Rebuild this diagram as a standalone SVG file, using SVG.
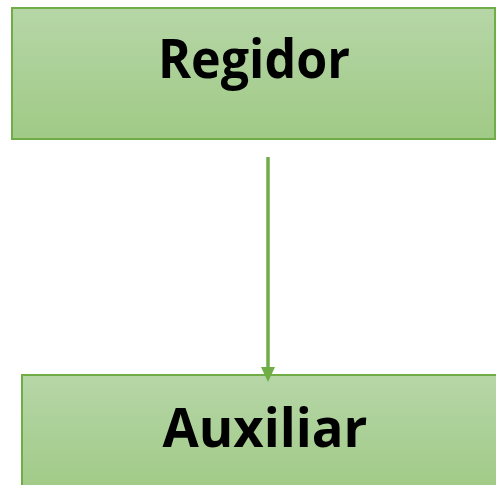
<svg xmlns="http://www.w3.org/2000/svg" width="496" height="485" viewBox="0 0 496 485">
<defs>
<linearGradient id="g" x1="0" y1="0" x2="0" y2="1">
<stop offset="0" stop-color="#b6d6a7"/>
<stop offset="1" stop-color="#a0ca86"/>
</linearGradient>
<style>
.box{fill:url(#g);stroke:#70ad47;stroke-width:2}
.lbl{font-family:"Open Sans","Liberation Sans",sans-serif;font-weight:bold;font-size:53px;fill:#000;text-anchor:middle}
</style>
</defs>
<g id="regidor">
<rect class="box" x="12" y="8" width="483" height="131"/>
<text class="lbl" x="254" y="78" textLength="192" lengthAdjust="spacingAndGlyphs">Regidor</text>
</g>
<g id="auxiliar">
<rect class="box" x="22" y="375" width="480" height="120"/>
<text class="lbl" x="265" y="447" textLength="205" lengthAdjust="spacingAndGlyphs">Auxiliar</text>
</g>
<g id="connectors">
<line x1="268" y1="157" x2="268" y2="370" stroke="#70ad47" stroke-width="3.5"/>
<path d="M261,367 L275,367 L268,382 Z" fill="#70ad47"/>
</g>
</svg>
